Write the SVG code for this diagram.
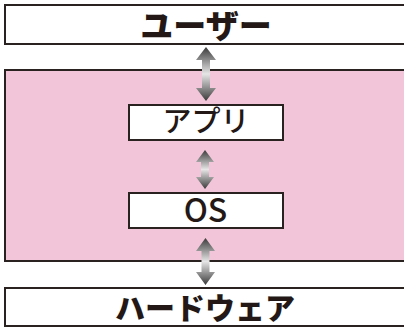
<svg xmlns="http://www.w3.org/2000/svg" width="404" height="327" viewBox="0 0 404 327">
<style>
.box{fill:#ffffff;stroke:#2a2220;stroke-width:2}
.pink{fill:#f2c6d8;stroke:#2a2220;stroke-width:2}
.big{font-family:"Noto Sans CJK JP","Noto Sans",sans-serif;font-weight:900;fill:#231815;text-anchor:middle}
.mid{font-family:"Noto Sans CJK JP","Noto Sans",sans-serif;font-weight:500;fill:#231815;text-anchor:middle}
.arr{fill:url(#g)}
</style>
<defs>
<linearGradient id="g" x1="0" y1="0" x2="0" y2="1">
<stop offset="0" stop-color="#3a3a3a"/>
<stop offset="0.5" stop-color="#e6e6e6"/>
<stop offset="1" stop-color="#3a3a3a"/>
</linearGradient>
</defs>
<g id="os-layer">
<rect class="pink" x="5" y="70" width="420" height="191"/>
</g>
<g id="user">
<rect class="box" x="5" y="5" width="420" height="39"/>
<text class="big" x="206" y="38" font-size="33">ユーザー</text>
</g>
<g id="app">
<rect class="box" x="129" y="105" width="154" height="35"/>
<text class="mid" x="206" y="132" font-size="29">アプリ</text>
</g>
<g id="os">
<rect class="box" x="129" y="193" width="154" height="35"/>
<text class="mid" x="205.5" y="222" font-size="32">OS</text>
</g>
<g id="hardware">
<rect class="box" x="5" y="288" width="420" height="38"/>
<text class="big" x="205" y="318.5" font-size="30">ハードウェア</text>
</g>
<g id="connectors">
<path class="arr" d="M206 47 L216 60 L210 60 L210 88 L216 88 L206 101 L196 88 L202 88 L202 60 L196 60 Z"/>
<path class="arr" d="M205 150 L214 162 L209 162 L209 177 L214 177 L205 189 L196 177 L201 177 L201 162 L196 162 Z"/>
<path class="arr" d="M205.5 238 L215 251 L209.5 251 L209.5 272 L215 272 L205.5 285 L196 272 L201.5 272 L201.5 251 L196 251 Z"/>
</g>
</svg>
